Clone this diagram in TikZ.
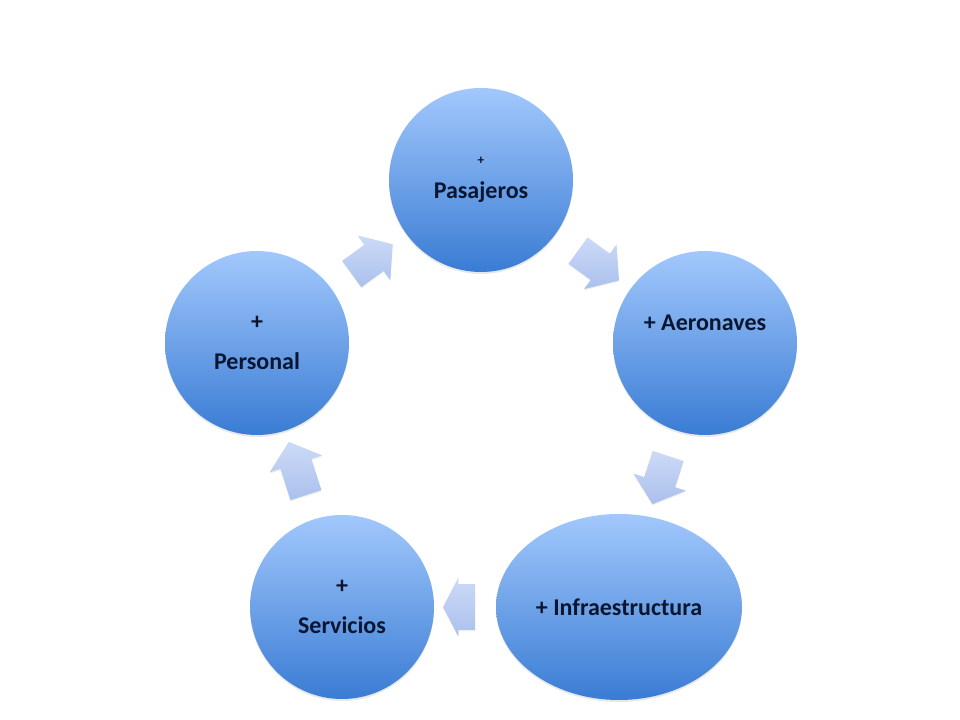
\documentclass[tikz,border=0pt]{standalone}
\usepackage{fontspec}
\setmainfont{Carlito}
\usepackage{tikz}
\usetikzlibrary{calc,shapes.geometric,shapes.arrows,shadows}

\definecolor{circTop}{RGB}{162,200,252}
\definecolor{circBot}{RGB}{58,124,212}
\definecolor{arrTop}{RGB}{204,218,247}
\definecolor{arrBot}{RGB}{170,192,236}
\definecolor{txtDark}{RGB}{10,22,48}

\begin{document}
\begin{tikzpicture}[x=0.75pt,y=0.75pt,
    etapa/.style={circle, minimum size=138pt, inner sep=0pt, top color=circTop, bottom color=circBot,
        text=txtDark, font=\fontsize{18}{30}\selectfont\bfseries, align=center,
        drop shadow={opacity=0.18, shadow xshift=0pt, shadow yshift=-1.5pt}},
    flecha/.style={single arrow, inner xsep=0pt, inner ysep=12pt, minimum width=0pt, single arrow head extend=8.5pt,
        single arrow tip angle=100, minimum height=38pt, top color=arrTop, bottom color=arrBot,
        sloped, allow upside down,
        drop shadow={opacity=0.12, shadow xshift=0pt, shadow yshift=-1pt}}]
    \useasboundingbox (0,0) rectangle (960,720);

    % las cinco etapas
    \node[etapa] (pas) at (481,540) {{\fontsize{10}{10}\selectfont +}\\[-5pt]Pasajeros};
    \node[etapa] (aer) at (705,377) {+ Aeronaves\\~};
    \node[etapa, ellipse, minimum width=184.5pt, minimum height=139.5pt] (inf) at (619,113) {+ Infraestructura};
    \node[etapa] (ser) at (342,113) {+\\Servicios};
    \node[etapa] (per) at (257,377) {+\\Personal};

    % flechas del ciclo
    \path (per) -- (pas) node[flecha, pos=0.47] (f1) {};
    \path (pas) -- (aer) node[flecha, midway] (f2) {};
    \path (aer) -- (inf) node[flecha, midway] (f3) {};
    \path (inf) -- (ser) node[flecha, midway, minimum height=24pt, inner ysep=17pt,
        single arrow head extend=5pt, single arrow tip angle=125] (f4) {};
    \path (ser) -- (per) node[flecha, midway, minimum height=42pt] (f5) {};
\end{tikzpicture}
\end{document}
